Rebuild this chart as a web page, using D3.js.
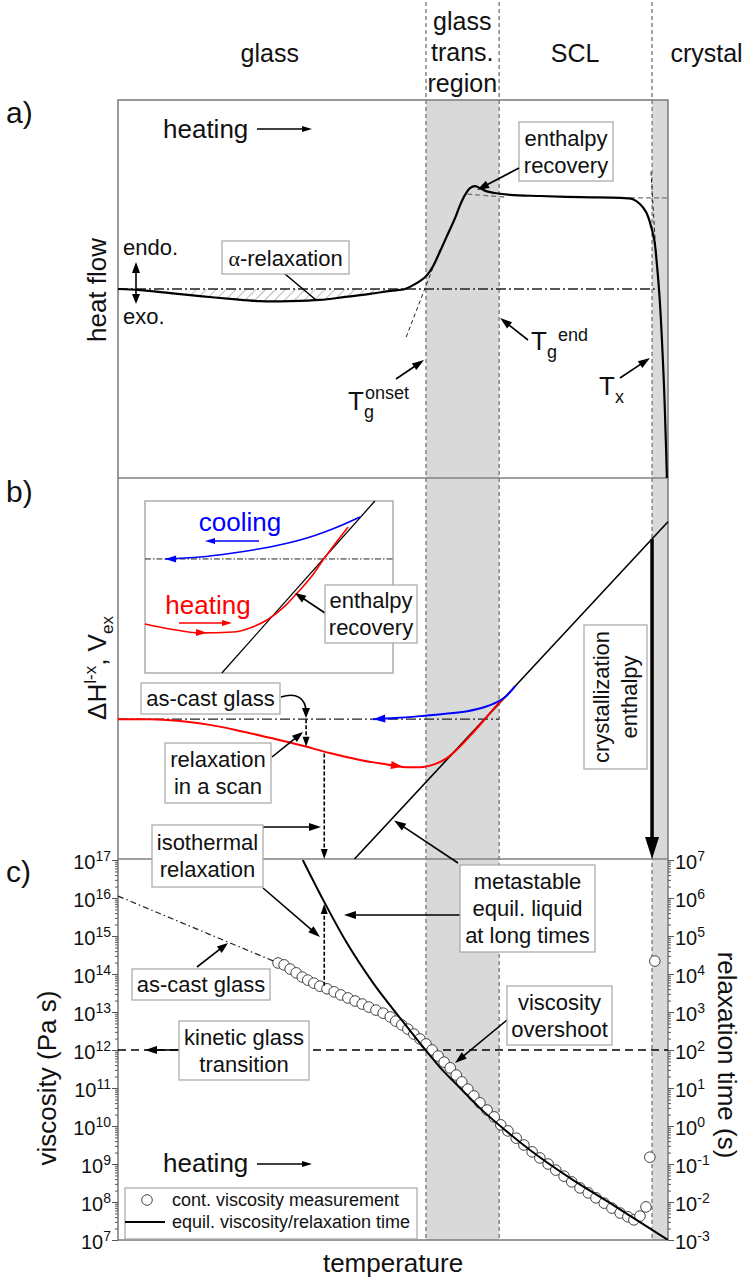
<!DOCTYPE html>
<html lang="en">
<head>
<meta charset="utf-8">
<title>Glass transition schematic</title>
<script src="https://d3js.org/d3.v7.min.js"></script>
<style>
  body { margin: 0; background: #fff; }
  svg text { font-family: Arial, "Liberation Sans", Helvetica, sans-serif; fill: #111; }
</style>
</head>
<body>
<div id="chart"></div>
<script>
// temperature axis is arbitrary (0..100), no ticks
var tOnset = 56.0, tEnd = 69.3, tX = 97.1;
var regionNames = [["glass"], ["glass", "trans.", "region"], ["SCL"], ["crystal"]];
var regionMid = [27.6, 62.6, 83.1, 107.0];

// a) heat flow (arb. units)
var heatT = [0,4,9.5,14.9,20.4,25.8,31.3,36.7,41.3,45.8,49.5,52.2,54.0,56.0,57.3,58.5,59.8,61.3,62.2,63.1,64.0,64.9,65.8,66.9,68.5,71.3,76.7,84.0,91.3,93.5,94.9,96.0,96.7,97.5,98.0,98.5,98.9,99.3,99.6,99.8];
var heatFlow = [50.0,49.7,48.9,48.1,47.4,46.8,46.8,47.1,47.9,48.7,49.5,50.0,51.3,53.4,56.1,59.8,64.0,68.8,72.2,74.9,76.7,77.2,76.7,75.9,75.4,74.9,74.6,74.3,74.1,73.8,72.5,70.4,67.7,63.0,56.3,47.1,36.5,23.3,10.1,0];
var heatBase = 50;
var onsetTanT = [52.4, 58.5], onsetTanY = [37.3, 60.3];
var sclLineT = [[63.5, 70.7], [93.1, 100]], sclLineY = [[75.1, 74.3], [74.1, 74.1]];
var txTanT = [96.9, 98.0], txTanY = [81.0, 55.0];

// b) enthalpy / excess volume (arb. units)
var liquidT = [43.0, 100], liquidH = [0, 88.5];
var heatScanT = [0,5.8,11.3,16.7,22.2,27.6,33.1,38.5,44.0,49.5,52.2,54.9,57.6,59.5,61.3,64.0,66.7,68.9,70.4];
var heatScanH = [36.7,36.7,36.2,35.2,33.6,31.8,29.9,27.8,26.0,24.7,24.1,24.1,24.9,26.2,28.3,32.3,36.7,40.4,42.5];
var coolScanT = [72.2,70.4,68.9,66.7,63.5,59.5,54.9,50.4,46.4];
var coolScanH = [45.4,42.5,41.2,39.9,38.8,38.1,37.5,37.0,36.7];
var asCastH = 36.7;

// b) inset (own arbitrary units)
var insetLineX = [31.0, 92.7], insetLineY = [0, 100];
var insetBase = 66.3;
var insetCoolX = [86.7,78.6,65.3,50.4,35.5,22.2,8.1];
var insetCoolY = [90.7,85.5,78.5,73.3,69.8,67.4,66.3];
var insetHeatX = [0,10.1,22.2,35.5,42.3,49.2,56.5,62.5,67.3,71.8,76.6,81.9];
var insetHeatY = [28.5,25.6,23.3,23.8,26.2,30.8,39.0,48.3,56.4,65.7,75.0,84.9];

// c) viscosity, log10(Pa s)
var equilT = [33.6,37.3,41.6,46.4,51.3,54.9,58.5,62.2,65.8,69.5,74.9,82.2,89.5,94.9,100];
var equilLogEta = [17.0,15.95,14.82,13.76,12.84,12.18,11.55,11.0,10.47,10.0,9.37,8.63,7.97,7.47,7.0];
var measT = [29.1,30.2,31.3,32.4,33.5,34.5,35.6,36.7,38.0,39.3,40.5,41.8,43.1,44.4,45.6,46.9,48.2,49.5,50.5,51.6,52.7,53.8,54.9,56.0,57.1,58.2,59.3,60.4,61.5,62.5,63.6,64.7,65.8,67.1,68.4,69.6,70.9,72.4,73.8,75.3,76.7,78.2,79.6,81.1,82.5,84.0,85.5,86.9,88.4,89.8,91.3,92.7,93.8,94.9,96.0,96.7,97.6];
var measLogEta = [14.29,14.24,14.13,14.03,13.92,13.84,13.76,13.68,13.61,13.53,13.45,13.37,13.29,13.21,13.13,13.05,12.97,12.87,12.76,12.66,12.55,12.42,12.29,12.16,12.00,11.84,11.68,11.53,11.34,11.16,10.97,10.79,10.61,10.42,10.24,10.03,9.87,9.68,9.50,9.32,9.16,9.00,8.84,8.68,8.53,8.37,8.24,8.11,7.97,7.84,7.71,7.61,7.53,7.63,7.87,9.18,14.34];
var asCastT = [0, 29.1], asCastLogEta = [16.05, 14.29];
var kineticLogEta = 12;
var etaDecades = d3.range(7, 18);
var tauDecades = d3.range(-3, 8);

var width = 742, height = 1279;
var svg = d3.select("#chart").append("svg").attr("width", width).attr("height", height);

var x = d3.scaleLinear().domain([0, 100]).range([118, 668]);
var ya = d3.scaleLinear().domain([0, 100]).range([478, 100]);
var yb = d3.scaleLinear().domain([0, 100]).range([859, 478]);
var yEta = d3.scaleLog().domain([1e7, 1e17]).range([1240, 860]);
var yTau = d3.scaleLog().domain([1e-3, 1e7]).range([1240, 860]);
var ix = d3.scaleLinear().domain([0, 100]).range([145, 393]);
var iy = d3.scaleLinear().domain([0, 100]).range([673, 501]);

function interp(xs, ys, t) {
  for (var i = 1; i < xs.length; i++) {
    if ((t - xs[i-1]) * (t - xs[i]) <= 0) {
      return ys[i-1] + (ys[i] - ys[i-1]) * (t - xs[i-1]) / (xs[i] - xs[i-1]);
    }
  }
  return ys[ys.length - 1];
}
function zip(a, b) { return a.map(function(v, i) { return [v, b[i]]; }); }

function head(g, x1, y1, x2, y2, color, len, half) {
  var a = Math.atan2(y2 - y1, x2 - x1);
  var bx = x2 - len * Math.cos(a), by = y2 - len * Math.sin(a);
  var nx = -Math.sin(a) * half, ny = Math.cos(a) * half;
  g.append("path")
    .attr("d", "M" + x2 + "," + y2 + "L" + (bx + nx) + "," + (by + ny) + "L" + (bx - nx) + "," + (by - ny) + "Z")
    .attr("fill", color);
}
function arrow(g, x1, y1, x2, y2, opt) {
  opt = opt || {};
  var color = opt.color || "#000", len = opt.len || 11, half = opt.half || 4;
  var a = Math.atan2(y2 - y1, x2 - x1);
  g.append("line")
    .attr("x1", x1).attr("y1", y1)
    .attr("x2", x2 - len * 0.7 * Math.cos(a)).attr("y2", y2 - len * 0.7 * Math.sin(a))
    .attr("stroke", color).attr("stroke-width", opt.width || 1.6)
    .attr("stroke-dasharray", opt.dash || null);
  head(g, x1, y1, x2, y2, color, len, half);
}
function box(g, x0, y0, x1, y1, lines, size) {
  g.append("rect").attr("x", x0).attr("y", y0).attr("width", x1 - x0).attr("height", y1 - y0)
    .attr("fill", "#fff").attr("stroke", "#a6a6a6").attr("stroke-width", 1.2);
  var step = size * 1.22, cy = (y0 + y1) / 2;
  lines.forEach(function(s, i) {
    g.append("text").attr("x", (x0 + x1) / 2).attr("y", cy + (i - (lines.length - 1) / 2) * step)
      .attr("dy", "0.35em").attr("text-anchor", "middle").attr("font-size", size).text(s);
  });
}

// hatch pattern for alpha relaxation
var defs = svg.append("defs");
defs.append("pattern").attr("id", "hatch").attr("patternUnits", "userSpaceOnUse")
  .attr("width", 7).attr("height", 7).attr("patternTransform", "rotate(45)")
  .append("line").attr("x1", 0).attr("y1", 0).attr("x2", 0).attr("y2", 7)
  .attr("stroke", "#777").attr("stroke-width", 1);
defs.append("clipPath").attr("id", "hatchClip").append("rect")
  .attr("x", x(12.5)).attr("y", 100).attr("width", x(50.5) - x(12.5)).attr("height", 378);
defs.append("clipPath").attr("id", "clipC").append("rect")
  .attr("x", 118).attr("y", 860).attr("width", 550).attr("height", 380);

// grey regions and dashed region borders
svg.append("rect").attr("x", x(tOnset)).attr("y", 100).attr("width", x(tEnd) - x(tOnset)).attr("height", 1140).attr("fill", "#d9d9d9");
svg.append("rect").attr("x", x(tX)).attr("y", 100).attr("width", x(100) - x(tX)).attr("height", 1140).attr("fill", "#d9d9d9");
[tOnset, tEnd, tX].forEach(function(t) {
  svg.append("line").attr("x1", x(t)).attr("x2", x(t)).attr("y1", 2).attr("y2", 1240)
    .attr("stroke", "#8c8c8c").attr("stroke-width", 1.6).attr("stroke-dasharray", "4,3");
});

// region names
regionNames.forEach(function(lines, i) {
  lines.forEach(function(s, j) {
    var cy = lines.length === 1 ? 53 : 21 + j * 31;
    svg.append("text").attr("x", x(regionMid[i])).attr("y", cy).attr("dy", "0.35em")
      .attr("text-anchor", "middle").attr("font-size", 25).text(s);
  });
});

// panel frames
svg.append("rect").attr("x", 118).attr("y", 100).attr("width", 550).attr("height", 1140)
  .attr("fill", "none").attr("stroke", "#808080").attr("stroke-width", 1.6);
[478, 859].forEach(function(y) {
  svg.append("line").attr("x1", 118).attr("x2", 668).attr("y1", y).attr("y2", y)
    .attr("stroke", "#808080").attr("stroke-width", 1.6);
});

// panel letters and y titles
[["a)", 112], ["b)", 491], ["c)", 871]].forEach(function(d) {
  svg.append("text").attr("x", 6).attr("y", d[1]).attr("dy", "0.35em").attr("font-size", 30).text(d[0]);
});
function vtitle(xp, yp, rot) {
  return svg.append("text").attr("transform", "translate(" + xp + "," + yp + ") rotate(" + rot + ")")
    .attr("text-anchor", "middle").attr("dy", "0.35em").attr("font-size", 26);
}
vtitle(97, 290, -90).text("heat flow");
var dh = vtitle(97, 668, -90);
dh.append("tspan").text("\u0394H");
dh.append("tspan").attr("dy", -10).attr("font-size", 17).text("l-x");
dh.append("tspan").attr("dy", 10).text(", V");
dh.append("tspan").attr("dy", 7).attr("font-size", 17).text("ex");
vtitle(47, 1078, -90).text("viscosity (Pa s)");
vtitle(727, 1055, 90).text("relaxation time (s)");
svg.append("text").attr("x", 393).attr("y", 1263).attr("dy", "0.35em").attr("text-anchor", "middle")
  .attr("font-size", 26).text("temperature");

// ---------- a) ----------
var ga = svg.append("g");
var lineA = d3.line().x(function(d) { return x(d[0]); }).y(function(d) { return ya(d[1]); });
var heatPts = zip(heatT, heatFlow);
ga.append("path").datum(heatPts)
  .attr("clip-path", "url(#hatchClip)")
  .attr("d", d3.area().x(function(d) { return x(d[0]); }).y0(ya(heatBase)).y1(function(d) { return Math.max(ya(heatBase), ya(d[1])); }).curve(d3.curveCatmullRom.alpha(0.5)))
  .attr("fill", "url(#hatch)");
ga.append("line").attr("x1", x(0)).attr("x2", x(97.6)).attr("y1", ya(heatBase)).attr("y2", ya(heatBase))
  .attr("stroke", "#222").attr("stroke-width", 1.5).attr("stroke-dasharray", "10,3,2,3");
ga.append("path").datum(zip(onsetTanT, onsetTanY)).attr("d", lineA)
  .attr("fill", "none").attr("stroke", "#222").attr("stroke-width", 1).attr("stroke-dasharray", "4,3");
sclLineT.forEach(function(ts, i) {
  ga.append("path").datum(zip(ts, sclLineY[i])).attr("d", lineA)
    .attr("fill", "none").attr("stroke", "#777").attr("stroke-width", 1.4).attr("stroke-dasharray", "5,3");
});
ga.append("path").datum(zip(txTanT, txTanY)).attr("d", lineA)
  .attr("fill", "none").attr("stroke", "#222").attr("stroke-width", 1).attr("stroke-dasharray", "4,3");
ga.append("path").datum(heatPts).attr("d", lineA.curve(d3.curveCatmullRom.alpha(0.5)))
  .attr("fill", "none").attr("stroke", "#000").attr("stroke-width", 2.2);

ga.append("text").attr("x", 163).attr("y", 129).attr("dy", "0.35em").attr("font-size", 26).text("heating");
arrow(ga, 257, 129, 312, 129, { width: 1.4, len: 10, half: 3 });
ga.append("text").attr("x", 123).attr("y", 247).attr("dy", "0.35em").attr("font-size", 22).text("endo.");
ga.append("text").attr("x", 123).attr("y", 316).attr("dy", "0.35em").attr("font-size", 22).text("exo.");
arrow(ga, 136, 290, 136, 262, { width: 1.6, len: 11, half: 4 });
arrow(ga, 136, 290, 136, 304, { width: 1.6, len: 10, half: 4 });
ga.append("line").attr("x1", 285).attr("y1", 274).attr("x2", 316).attr("y2", 300).attr("stroke", "#000").attr("stroke-width", 1.6);
ga.append("rect").attr("x", 222).attr("y", 241).attr("width", 127).attr("height", 33)
  .attr("fill", "#fff").attr("stroke", "#a6a6a6").attr("stroke-width", 1.2);
var al = ga.append("text").attr("x", 285.5).attr("y", 258).attr("dy", "0.35em").attr("text-anchor", "middle").attr("font-size", 22);
al.append("tspan").attr("font-family", "'Liberation Serif', 'DejaVu Serif', serif").text("\u03b1");
al.append("tspan").text("-relaxation");
box(ga, 519, 122, 613, 181, ["enthalpy", "recovery"], 22);
arrow(ga, 519, 168, x(65.3), ya(76.2), { len: 12, half: 4 });

function tLabel(g, x0, yb0, sub, sup, subDx, supDx, supDy) {
  g.append("text").attr("x", x0).attr("y", yb0).attr("font-size", 26).text("T");
  g.append("text").attr("x", x0 + subDx).attr("y", yb0 + 8).attr("font-size", 18).text(sub);
  if (sup) g.append("text").attr("x", x0 + supDx).attr("y", yb0 - supDy).attr("font-size", 18).text(sup);
}
tLabel(ga, 348, 410, "g", "onset", 16, 17, 11);
arrow(ga, 396, 379, x(tOnset) - 2, 360, { len: 12, half: 4 });
tLabel(ga, 531, 350, "g", "end", 16, 27, 9);
arrow(ga, 528, 340, x(tEnd) + 1, 318, { len: 12, half: 4 });
tLabel(ga, 599, 395, "x", null, 16, 0, 0);
arrow(ga, 620, 378, x(tX) - 2, 358, { len: 12, half: 4 });

// ---------- b) ----------
var gb = svg.append("g");
var lineB = d3.line().x(function(d) { return x(d[0]); }).y(function(d) { return yb(d[1]); });
gb.append("line").attr("x1", x(0)).attr("x2", x(tEnd)).attr("y1", yb(asCastH)).attr("y2", yb(asCastH))
  .attr("stroke", "#222").attr("stroke-width", 1.4).attr("stroke-dasharray", "10,3,2,3");
gb.append("path").datum(zip(liquidT, liquidH)).attr("d", lineB)
  .attr("fill", "none").attr("stroke", "#000").attr("stroke-width", 1.6);
gb.append("path").datum(zip(heatScanT, heatScanH)).attr("d", lineB.curve(d3.curveMonotoneX))
  .attr("fill", "none").attr("stroke", "#f00").attr("stroke-width", 2);
gb.append("path").datum(zip(coolScanT, coolScanH)).attr("d", d3.line().x(function(d) { return x(d[0]); }).y(function(d) { return yb(d[1]); }).curve(d3.curveMonotoneX))
  .attr("fill", "none").attr("stroke", "#00f").attr("stroke-width", 2);
// arrow heads on scans
head(gb, x(50.5), yb(interp(heatScanT, heatScanH, 50.5)), x(51.8), yb(interp(heatScanT, heatScanH, 51.8)), "#f00", 12, 4);
head(gb, x(47.5), yb(interp(coolScanT, coolScanH, 47.5)), x(46.4), yb(36.7), "#00f", 12, 4);

// relaxation arrows
var tScan = 34.2, tIso = 37.5;
arrow(gb, x(tScan), yb(asCastH), x(tScan), yb(interp(heatScanT, heatScanH, tScan)), { dash: "4,2", len: 10, half: 3.5 });
arrow(gb, x(tIso), yb(interp(heatScanT, heatScanH, tIso)) + 2, x(tIso), yb(0), { dash: "4,2", len: 10, half: 3.5 });

// crystallization enthalpy
var hx = interp(liquidT, liquidH, tX);
arrow(gb, x(tX), yb(hx), x(tX), yb(0), { width: 3.5, len: 22, half: 7 });

// inset
var gi = svg.append("g");
gi.append("rect").attr("x", ix(0)).attr("y", iy(100)).attr("width", ix(100) - ix(0)).attr("height", iy(0) - iy(100))
  .attr("fill", "#fff").attr("stroke", "#a0a0a0").attr("stroke-width", 1.3);
gi.append("line").attr("x1", ix(0)).attr("x2", ix(100)).attr("y1", iy(insetBase)).attr("y2", iy(insetBase))
  .attr("stroke", "#222").attr("stroke-width", 1).attr("stroke-dasharray", "6,2,1.5,2");
var lineI = d3.line().x(function(d) { return ix(d[0]); }).y(function(d) { return iy(d[1]); }).curve(d3.curveMonotoneX);
gi.append("path").datum(zip(insetLineX, insetLineY)).attr("d", d3.line().x(function(d) { return ix(d[0]); }).y(function(d) { return iy(d[1]); }))
  .attr("fill", "none").attr("stroke", "#000").attr("stroke-width", 1.3);
gi.append("path").datum(zip(insetHeatX, insetHeatY)).attr("d", lineI)
  .attr("fill", "none").attr("stroke", "#f00").attr("stroke-width", 1.6);
gi.append("path").datum(zip(insetCoolX.slice().reverse(), insetCoolY.slice().reverse())).attr("d", lineI)
  .attr("fill", "none").attr("stroke", "#00f").attr("stroke-width", 1.6);
head(gi, ix(12), iy(insetCoolY[6]), ix(8.1), iy(insetCoolY[6]), "#00f", 11, 3.5);
head(gi, ix(21), iy(interp(insetHeatX, insetHeatY, 21)), ix(25), iy(interp(insetHeatX, insetHeatY, 25)), "#f00", 11, 3.5);
gi.append("text").attr("x", 240).attr("y", 522).attr("dy", "0.35em").attr("text-anchor", "middle")
  .attr("font-size", 26).style("fill", "#00f").text("cooling");
arrow(gi, 259, 541, 205, 541, { color: "#00f", width: 1.4, len: 10, half: 3 });
gi.append("text").attr("x", 208).attr("y", 605).attr("dy", "0.35em").attr("text-anchor", "middle")
  .attr("font-size", 26).style("fill", "#f00").text("heating");
arrow(gi, 179, 623, 232, 623, { color: "#f00", width: 1.4, len: 10, half: 3 });
arrow(gi, 325, 613, 295, 593, { len: 11, half: 4 });
box(gi, 325, 585, 417, 643, ["enthalpy", "recovery"], 22);

// annotation boxes in b
gb.append("path").attr("d", "M281,697 C296,692 306,698 306,712").attr("fill", "none").attr("stroke", "#000").attr("stroke-width", 1.6);
head(gb, 306, 708, 306, 718, "#000", 10, 4);
box(gb, 141, 683, 280, 714, ["as-cast glass"], 22);
arrow(gb, 272, 757, 303, 732, { len: 11, half: 4 });
box(gb, 165, 743, 271, 803, ["relaxation", "in a scan"], 22);
arrow(gb, 263, 827, 321, 827, { len: 12, half: 4 });
arrow(gb, 458, 863, x(50.2), yb(interp(liquidT, liquidH, 50.2)) + 4, { len: 12, half: 4 });
var gc0 = svg.append("g");
gc0.append("rect").attr("x", 584).attr("y", 625).attr("width", 63).attr("height", 144)
  .attr("fill", "#fff").attr("stroke", "#a6a6a6").attr("stroke-width", 1.2);
["crystallization", "enthalpy"].forEach(function(s, i) {
  gc0.append("text").attr("transform", "translate(615.5,697) rotate(-90)")
    .attr("y", (i - 0.5) * 28).attr("dy", "0.35em").attr("text-anchor", "middle").attr("font-size", 22).text(s);
});

// ---------- c) ----------
var gc = svg.append("g");
var lineC = d3.line().x(function(d) { return x(d[0]); }).y(function(d) { return yEta(Math.pow(10, d[1])); });
gc.append("line").attr("x1", x(0)).attr("x2", x(100)).attr("y1", yEta(Math.pow(10, kineticLogEta))).attr("y2", yEta(Math.pow(10, kineticLogEta)))
  .attr("stroke", "#000").attr("stroke-width", 1.5).attr("stroke-dasharray", "8,5");
gc.append("path").datum(zip(asCastT, asCastLogEta)).attr("d", lineC)
  .attr("fill", "none").attr("stroke", "#222").attr("stroke-width", 1.2).attr("stroke-dasharray", "6,3,1.5,3");
gc.selectAll("circle.meas").data(zip(measT, measLogEta)).enter().append("circle")
  .attr("class", "meas")
  .attr("cx", function(d) { return x(d[0]); })
  .attr("cy", function(d) { return yEta(Math.pow(10, d[1])); })
  .attr("r", 5.3).attr("fill", "#fff").attr("stroke", "#444").attr("stroke-width", 1);
gc.append("path").datum(zip(equilT, equilLogEta)).attr("clip-path", "url(#clipC)")
  .attr("d", lineC.curve(d3.curveMonotoneX))
  .attr("fill", "none").attr("stroke", "#000").attr("stroke-width", 2);

// isothermal relaxation dashed arrow
arrow(gc, x(tIso), yEta(Math.pow(10, interp(measT, measLogEta, tIso))) - 2, x(tIso), yEta(Math.pow(10, interp(equilT, equilLogEta, tIso))) + 2, { dash: "4,2", len: 10, half: 3.5 });

// axes
var axL = d3.axisLeft(yEta).tickValues(etaDecades.map(function(p) { return Math.pow(10, p); })).tickSize(6).tickFormat("");
var minorEta = [];
etaDecades.slice(0, -1).forEach(function(p) { for (var k = 2; k < 10; k++) minorEta.push(k * Math.pow(10, p)); });
var minorTau = [];
tauDecades.slice(0, -1).forEach(function(p) { for (var k = 2; k < 10; k++) minorTau.push(k * Math.pow(10, p)); });

var gL = svg.append("g").attr("transform", "translate(118,0)").call(axL);
svg.append("g").attr("transform", "translate(118,0)").call(d3.axisLeft(yEta).tickValues(minorEta).tickSize(3).tickFormat(""));
var gR = svg.append("g").attr("transform", "translate(668,0)")
  .call(d3.axisRight(yTau).tickValues(tauDecades.map(function(p) { return Math.pow(10, p); })).tickSize(6).tickFormat(""));
svg.append("g").attr("transform", "translate(668,0)").call(d3.axisRight(yTau).tickValues(minorTau).tickSize(3).tickFormat(""));
svg.selectAll(".domain").remove();
svg.selectAll(".tick line").attr("stroke", "#555");

gL.selectAll(".tick").each(function(d) {
  var t = d3.select(this).append("text").attr("x", -7).attr("dy", "0.4em").attr("text-anchor", "end")
    .attr("font-size", 20).style("fill", "#111");
  t.append("tspan").text("10");
  t.append("tspan").attr("dy", "-0.55em").attr("font-size", 14).text(Math.round(Math.log10(d)));
});
gR.selectAll(".tick").each(function(d) {
  var t = d3.select(this).append("text").attr("x", 7).attr("dy", "0.4em").attr("text-anchor", "start")
    .attr("font-size", 20).style("fill", "#111");
  t.append("tspan").text("10");
  t.append("tspan").attr("dy", "-0.55em").attr("font-size", 14).text(Math.round(Math.log10(d)));
});

// annotations in c
box(gb, 152, 825, 263, 887, ["isothermal", "relaxation"], 22);
arrow(gc, 263, 888, 320, 937, { len: 12, half: 4 });
arrow(gc, 460, 915, x(interp(equilLogEta.slice().reverse(), equilT.slice().reverse(), 15.1)) + 3, 915, { len: 12, half: 4 });
box(gc, 460, 865, 595, 952, ["metastable", "equil. liquid", "at long times"], 22);
arrow(gc, 197, 967, 228, 943, { len: 11, half: 4 });
box(gc, 132, 969, 270, 1000, ["as-cast glass"], 22);
arrow(gc, 179, yEta(1e12), 145, yEta(1e12), { len: 12, half: 4 });
box(gc, 179, 1021, 309, 1080, ["kinetic glass", "transition"], 22);
arrow(gc, 507, 1020, 455, 1063, { len: 12, half: 4 });
box(gc, 507, 986, 612, 1045, ["viscosity", "overshoot"], 22);
gc.append("text").attr("x", 163).attr("y", 1163).attr("dy", "0.35em").attr("font-size", 26).text("heating");
arrow(gc, 257, 1164, 312, 1164, { width: 1.4, len: 10, half: 3 });

// legend
var lg = svg.append("g");
lg.append("rect").attr("x", 125).attr("y", 1188).attr("width", 292).attr("height", 51)
  .attr("fill", "#fff").attr("stroke", "#a6a6a6").attr("stroke-width", 1.2);
lg.append("circle").attr("cx", 147).attr("cy", 1200).attr("r", 5.3).attr("fill", "#fff").attr("stroke", "#444");
lg.append("text").attr("x", 172).attr("y", 1200).attr("dy", "0.35em").attr("font-size", 18).text("cont. viscosity measurement");
lg.append("line").attr("x1", 125).attr("x2", 165).attr("y1", 1222).attr("y2", 1222).attr("stroke", "#000").attr("stroke-width", 2);
lg.append("text").attr("x", 172).attr("y", 1222).attr("dy", "0.35em").attr("font-size", 18).text("equil. viscosity/relaxation time");
</script>
</body>
</html>
